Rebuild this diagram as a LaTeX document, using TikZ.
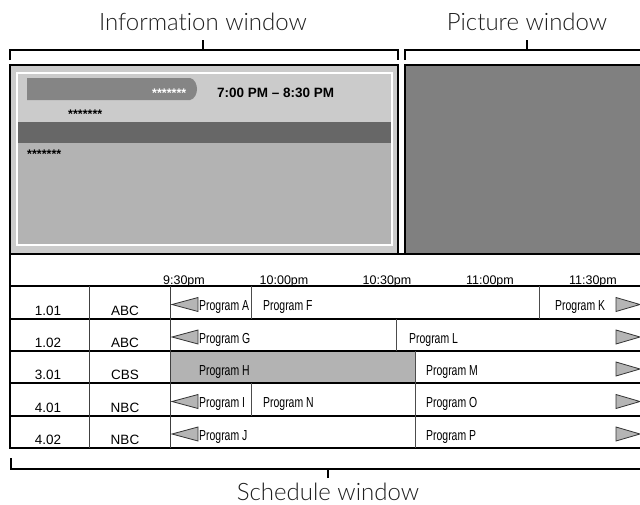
\documentclass[tikz,border=0pt]{standalone}
\usepackage{fontspec}
\setmainfont{Liberation Sans}
\newfontfamily\narrowfont[FakeStretch=0.72]{Liberation Sans}
\newfontfamily\bigfont[Ligatures=NoCommon]{Lato Light}
\definecolor{infolight}{HTML}{CBCBCB}
\definecolor{darkband}{HTML}{676767}
\definecolor{lowgray}{HTML}{B3B3B3}
\definecolor{picgray}{HTML}{808080}
\definecolor{pillgray}{HTML}{858585}
\definecolor{trigray}{HTML}{B5B5B5}
\definecolor{labelgray}{HTML}{1E1E1E}
\tikzset{
  bigtext/.style={font=\bigfont\fontsize{24}{24}\selectfont, text=labelgray, anchor=base, inner sep=0pt},
  hdrtext/.style={font=\fontsize{12.5}{12.5}\selectfont, anchor=base, inner sep=0pt},
  numtext/.style={font=\fontsize{13.5}{13.5}\selectfont, anchor=base, inner sep=0pt},
  progtext/.style={font=\narrowfont\fontsize{14.5}{14.5}\selectfont, anchor=base west, inner sep=0pt},
  startext/.style={font=\bfseries\fontsize{12.5}{12.5}\selectfont, anchor=base west, inner sep=0pt},
  bracket/.style={line width=1.8pt, black},
  boxborder/.style={line width=1.8pt, black},
  rowline/.style={line width=1.4pt, black},
  colline/.style={line width=1pt, black!75},
  progline/.style={line width=1pt, black!70},
  tri/.style={fill=trigray, draw=black!80, line width=0.8pt, line join=miter},
}
\begin{document}
\begin{tikzpicture}[x=1pt,y=-1pt]
\clip (0,0) rectangle (640,504);
\fill[white] (0,0) rectangle (640,504);

% ---------- top brackets and labels ----------
\node[bigtext] (infolabel) at (203,30) {Information window};
\node[bigtext] (piclabel) at (527,30) {Picture window};
\coordinate (infotick) at (203,40);
\coordinate (pictick) at (527,40);
\draw[bracket] (10,60) -- (10,50) -- (398,50) -- (398,60);
\draw[bracket] (infotick) -- (203,50);
\draw[bracket] (405,60) -- (405,50) -- (645,50);
\draw[bracket] (pictick) -- (527,50);

% ---------- information window ----------
\draw[boxborder, fill=infolight] (10,65) rectangle (398,254);
\fill[infolight] (17,73) rectangle (392,122);
\fill[darkband] (17,122) rectangle (392,143);
\fill[lowgray] (17,143) rectangle (392,245);
\draw[white, line width=1.5pt] (17,73) rectangle (392,245);
\fill[pillgray] (27,78) -- (190,78) .. controls (195,79) and (197,85) .. (197,89)
  .. controls (197,93) and (195,99) .. (190,100) -- (27,100) -- cycle;
\node[startext, text=white] (stars1) at (152,97) {*******};
\node[font=\bfseries\fontsize{13.5}{13.5}\selectfont, anchor=base west, inner sep=0pt] (timerange) at (217,97) {7:00 PM -- 8:30 PM};
\node[startext] (stars2) at (68,118) {*******};
\node[startext] (stars3) at (27,158) {*******};

% ---------- picture window ----------
\draw[boxborder, fill=picgray] (405,65) rectangle (645,254);

% ---------- schedule window ----------
\fill[lowgray] (170,351) rectangle (415,383);
\draw[rowline, line width=1.2pt] (10,286) -- (645,286);
\foreach \yy in {319,351,383,416} \draw[rowline] (10,\yy) -- (645,\yy);
\draw[boxborder] (10,254) -- (645,254);
\draw[boxborder] (10,253) -- (10,448) -- (645,448);
\draw[colline] (89,286) -- (89,448);
\draw[colline] (170,286) -- (170,448);
% program separators
\draw[progline] (251,286) -- (251,319);
\draw[progline] (539,286) -- (539,319);
\draw[progline] (396,319) -- (396,351);
\draw[progline] (415,351) -- (415,448);
\draw[progline] (251,383) -- (251,416);

% time header
\node[hdrtext] (t930) at (184,284) {9:30pm};
\node[hdrtext] (t1000) at (284,284) {10:00pm};
\node[hdrtext] (t1030) at (387,284) {10:30pm};
\node[hdrtext] (t1100) at (490,284) {11:00pm};
\node[hdrtext] (t1130) at (593,284) {11:30pm};

% channel columns
\node[numtext] (n1) at (48,315) {1.01};
\node[numtext] (n2) at (48,347) {1.02};
\node[numtext] (n3) at (48,379) {3.01};
\node[numtext] (n4) at (48,412) {4.01};
\node[numtext] (n5) at (48,444) {4.02};
\node[numtext] (s1) at (125,315) {ABC};
\node[numtext] (s2) at (125,347) {ABC};
\node[numtext] (s3) at (125,379) {CBS};
\node[numtext] (s4) at (125,412) {NBC};
\node[numtext] (s5) at (125,444) {NBC};

% programs
\node[progtext] (pa) at (199,310.5) {Program A};
\node[progtext] (pf) at (263,310.5) {Program F};
\node[progtext] (pk) at (555,310.5) {Program K};
\node[progtext] (pg) at (199,343) {Program G};
\node[progtext] (pl) at (409,343) {Program L};
\node[progtext] (ph) at (199,375) {Program H};
\node[progtext] (pm) at (426,375) {Program M};
\node[progtext] (pi) at (199,407.5) {Program I};
\node[progtext] (pn) at (263,407.5) {Program N};
\node[progtext] (po) at (426,407.5) {Program O};
\node[progtext] (pj) at (199,440) {Program J};
\node[progtext] (pp) at (426,440) {Program P};

% arrows (triangles)
\foreach \yc in {304.5,337,401.5,434}
  \draw[tri] (172,\yc) -- (198,\yc-7) -- (198,\yc+7) -- cycle;
\foreach \yc in {304.5,337,369,401.5,434}
  \draw[tri] (616,\yc-7) -- (640,\yc) -- (616,\yc+7) -- cycle;

% bottom bracket
\coordinate (schedtick) at (328,478);
\draw[bracket] (11,458) -- (11,469) -- (645,469);
\draw[bracket] (schedtick) -- (328,469);
\node[bigtext] (schedlabel) at (328,500) {Schedule window};
\end{tikzpicture}
\end{document}
